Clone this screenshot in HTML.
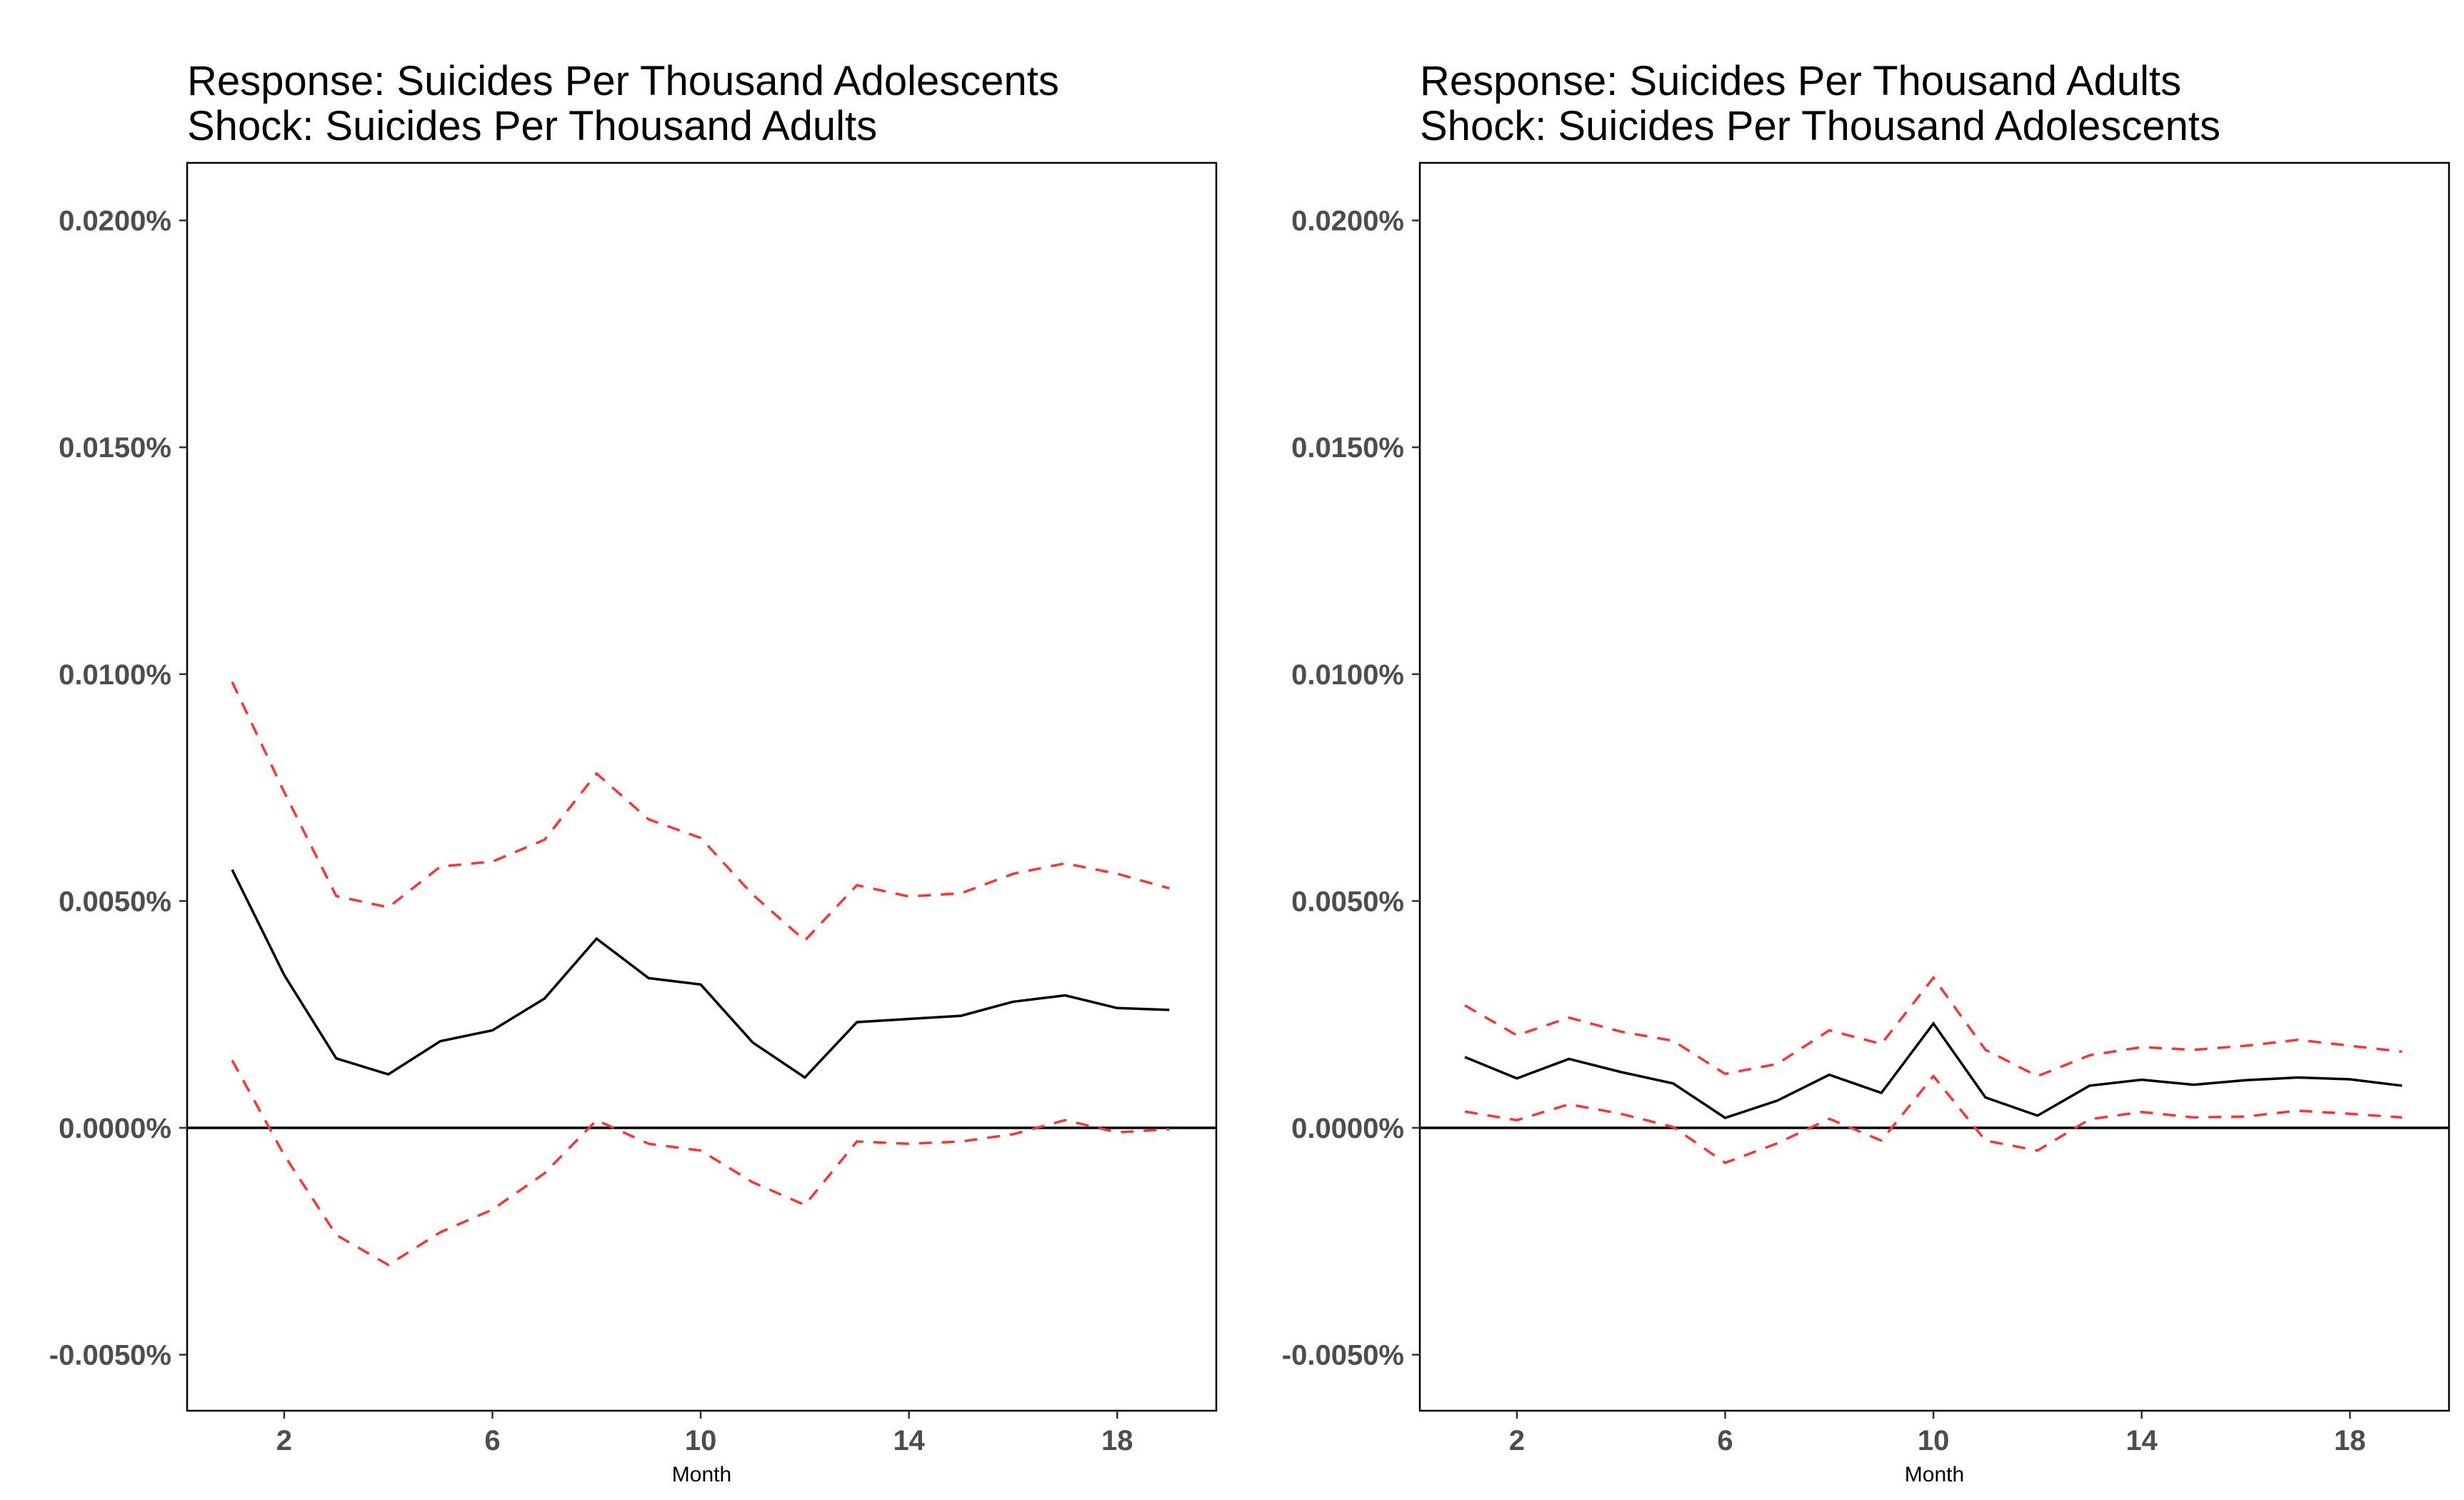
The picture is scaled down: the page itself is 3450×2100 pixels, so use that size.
<!DOCTYPE html>
<html><head><meta charset="utf-8"><style>html,body{margin:0;padding:0;background:#fff}svg{display:block}</style></head>
<body>
<svg id="chart" xmlns="http://www.w3.org/2000/svg" width="3450" height="2100" viewBox="0 0 3450 2100"></svg>
<script>
const months = [1,2,3,4,5,6,7,8,9,10,11,12,13,14,15,16,17,18,19];
const xTicks = [2,6,10,14,18];
const yTicks = [-0.005,0,0.005,0.010,0.015,0.020];
const yTickLabels = ["-0.0050%","0.0000%","0.0050%","0.0100%","0.0150%","0.0200%"];
const leftMean = [0.00569,0.00337,0.00153,0.00118,0.00191,0.00215,0.00285,0.00417,0.0033,0.00316,0.00188,0.00111,0.00233,0.0024,0.00247,0.00278,0.00292,0.00264,0.0026];
const leftUpper = [0.00983,0.0074,0.00511,0.00486,0.00576,0.00587,0.00635,0.00781,0.0068,0.00639,0.00514,0.00413,0.00535,0.0051,0.00517,0.0056,0.00583,0.0056,0.00528];
const leftLower = [0.00149,-0.0006,-0.00236,-0.00302,-0.0023,-0.0018,-0.001,0.00017,-0.00035,-0.0005,-0.0012,-0.0017,-0.0003,-0.00035,-0.0003,-0.00014,0.00017,-0.0001,-0.00003];
const rightMean = [0.00156,0.00109,0.00152,0.00123,0.00098,0.00022,0.0006,0.00117,0.00077,0.0023,0.00067,0.00027,0.00093,0.00106,0.00095,0.00105,0.00111,0.00107,0.00093];
const rightUpper = [0.0027,0.00204,0.00243,0.00212,0.00192,0.00119,0.00141,0.00215,0.00185,0.00331,0.00172,0.00114,0.0016,0.00178,0.00172,0.00181,0.00194,0.00181,0.00168];
const rightLower = [0.00036,0.00017,0.00052,0.00031,0.00002,-0.00077,-0.00034,0.0002,-0.00028,0.00114,-0.00028,-0.0005,0.00019,0.00035,0.00023,0.00025,0.00038,0.00031,0.00023];
const leftTitle = ["Response: Suicides Per Thousand Adolescents","Shock: Suicides Per Thousand Adults"];
const rightTitle = ["Response: Suicides Per Thousand Adults","Shock: Suicides Per Thousand Adolescents"];

const NS="http://www.w3.org/2000/svg";
const svg=document.getElementById('chart');
function mk(tag,attrs,parent){const e=document.createElementNS(NS,tag);for(const k in attrs)e.setAttribute(k,attrs[k]);(parent||svg).appendChild(e);return e;}

function panel(px,name,titles,mean,upper,lower){
  const L=px, R=px+1441, T=228, B=1975;
  const g=mk('g',{});
  
  
  const X=m=>L+63+(m-1)*72.9;
  const Y=v=>1579-v/0.005*317.6;
  titles.forEach((t,i)=>{
    const tx=mk('text',{x:L,y:133+i*63,'font-family':'Liberation Sans, sans-serif','font-size':58,fill:'#000'},g);
    tx.textContent=t;
    
    
  });
  const box=mk('rect',{x:L,y:T,width:R-L,height:B-T,fill:'none',stroke:'#000','stroke-width':2.5},g);
  
  
  yTicks.forEach((v,i)=>{
    const y=Y(v);
    mk('line',{x1:L-11,x2:L,y1:y,y2:y,stroke:'#333','stroke-width':2.5},g);
    const t=mk('text',{x:L-22,y:y+14,'text-anchor':'end','font-family':'Liberation Sans, sans-serif','font-weight':'bold','font-size':40,fill:'#4d4d4d'},g);
    t.textContent=yTickLabels[i];
    
    
  });
  xTicks.forEach(m=>{
    const x=X(m);
    mk('line',{x1:x,x2:x,y1:B,y2:B+11,stroke:'#333','stroke-width':2.5},g);
    const t=mk('text',{x:x,y:2030,'text-anchor':'middle','font-family':'Liberation Sans, sans-serif','font-weight':'bold','font-size':40,fill:'#4d4d4d'},g);
    t.textContent=m;
    
    
  });
  const xt=mk('text',{x:(L+R)/2,y:2074,'text-anchor':'middle','font-family':'Liberation Sans, sans-serif','font-size':30,fill:'#000'},g);
  xt.textContent='Month';
  
  
  const z=mk('line',{x1:L,x2:R,y1:Y(0),y2:Y(0),stroke:'#000','stroke-width':3.5},g);
  
  
  const pts=a=>a.map((v,i)=>X(months[i])+','+Y(v)).join(' ');
  [[upper,'upper-ci-line'],[lower,'lower-ci-line']].forEach(([a,n])=>{
    const p=mk('polyline',{points:pts(a),fill:'none',stroke:'#ff3333','stroke-width':3.5,'stroke-dasharray':'18 14'},g);
    
    
  });
  const p=mk('polyline',{points:pts(mean),fill:'none',stroke:'#000','stroke-width':3.5},g);
  
  
}
panel(262,'left-panel',leftTitle,leftMean,leftUpper,leftLower);
panel(1988,'right-panel',rightTitle,rightMean,rightUpper,rightLower);
</script>
</body></html>
